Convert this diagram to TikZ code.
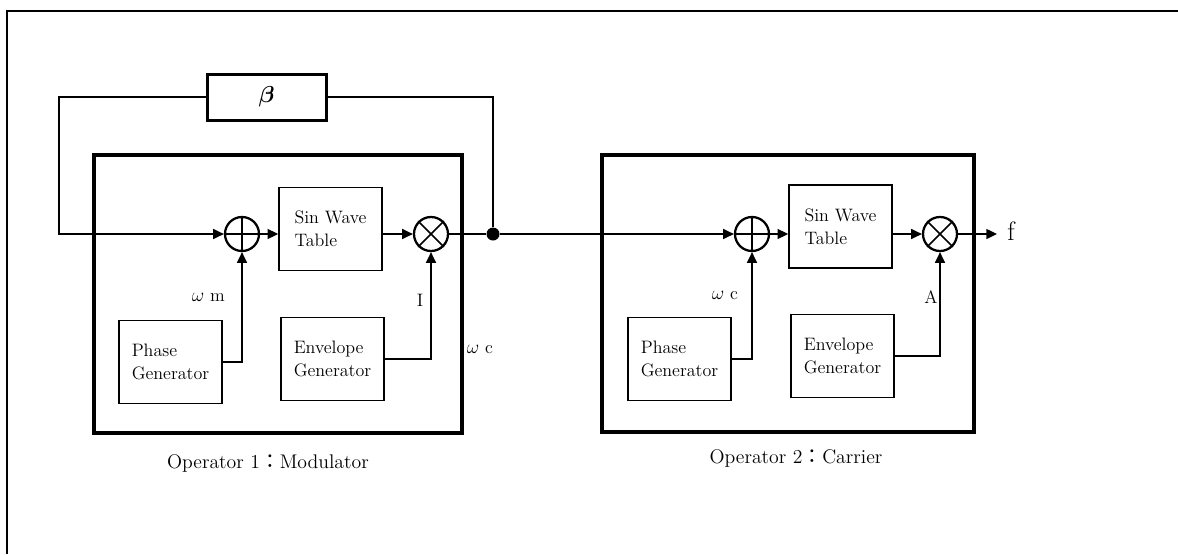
\documentclass[tikz,border=0pt]{standalone}
\usepackage{amsmath}
\usepackage{amssymb}
\usepackage{fontspec}
\newfontfamily\cjk{Noto Sans CJK JP}
\usetikzlibrary{arrows.meta}

\tikzset{
  blk/.style={draw, line width=1.2, minimum width=77.25pt, minimum height=62pt, align=left, inner sep=0pt, font=\fontsize{13.5}{17.5}\selectfont},
  junc/.style={draw, circle, line width=1.7, minimum size=25.5pt, inner sep=0pt},
  lbl/.style={inner sep=0.75pt, font=\fontsize{13.5}{16}\selectfont},
  capt/.style={inner sep=0.75pt, font=\fontsize{14.8}{18}\selectfont},
  sig/.style={line width=1},
  arr/.style={sig, -{Triangle[length=8pt,width=7.5pt]}}
}

\begin{document}
\begin{tikzpicture}[x=0.75pt,y=0.75pt,yscale=-1,xscale=1]
\useasboundingbox (0,0) rectangle (1178,554);

%Straight Lines
\draw [line width=1.5] (7,554) -- (7,11) -- (1178,11) ;
%Shape: Rectangle
\draw [line width=2.6] (94,155) rectangle (462,433) ;
%Shape: Rectangle
\draw [line width=2.6] (602,155) rectangle (974,432) ;

%Operator 1
\node [blk] (sin1) at (330.5,229) {Sin Wave\\Table};
\node [blk] (ph1) at (170.5,362) {Phase\\Generator};
\node [blk] (env1) at (332.5,359) {Envelope\\Generator};
\node [junc] (sum1) at (242,234) {};
\node [junc] (mul1) at (431,234) {};
\node [draw, line width=2.25, minimum width=89.25pt, minimum height=34.5pt, font=\fontsize{16}{18}\selectfont] (beta) at (266.5,97) {$\boldsymbol{\beta}$};
\node [circle, fill, inner sep=0pt, minimum size=9.75pt] (tap) at (493,234) {};
\coordinate (fbl) at (59,234);

%Operator 2
\node [blk] (sin2) at (840.5,226.5) {Sin Wave\\Table};
\node [blk] (ph2) at (679.5,359) {Phase\\Generator};
\node [blk] (env2) at (842.5,356) {Envelope\\Generator};
\node [junc] (sum2) at (752,234) {};
\node [junc] (mul2) at (940,234) {};
\coordinate (fout) at (997,234);

%Signs in circles
\draw [line width=1.2] (sum1.north) -- (sum1.south) (sum1.west) -- (sum1.east) ;
\draw [line width=1.2] (sum2.north) -- (sum2.south) (sum2.west) -- (sum2.east) ;
\draw [line width=1.2] (mul1.45) -- (mul1.225) (mul1.135) -- (mul1.-45) ;
\draw [line width=1.2] (mul2.45) -- (mul2.225) (mul2.135) -- (mul2.-45) ;

%Straight Lines
\draw [sig] (tap) |- (beta.east) ;
\draw [arr] (beta.west) -| (fbl) -- (sum1.west) ;
\draw [arr] (sum1.east) -- (sin1.west |- sum1.east) ;
\draw [arr] (sin1.east |- mul1.west) -- (mul1.west) ;
\draw [sig] (mul1.east) -- (tap) ;
\draw [arr] (ph1.east) -| (sum1.south) ;
\draw [arr] (env1.east) -| (mul1.south) ;
\draw [arr] (tap) -- (sum2.west) ;
\draw [arr] (sum2.east) -- (sin2.west |- sum2.east) ;
\draw [arr] (sin2.east |- mul2.west) -- (mul2.west) ;
\draw [arr] (mul2.east) -- (fout) ;
\draw [arr] (ph2.east) -| (sum2.south) ;
\draw [arr] (env2.east) -| (mul2.south) ;

% Text Node
\node [lbl, anchor=east] (wm) at (226,297) {$\omega$ m};
% Text Node
\node [lbl] (lI) at (420,300) {I};
% Text Node
\node [lbl] (wc1) at (480,349) {$\omega$ c};
% Text Node
\node [lbl] (wc2) at (725,295) {$\omega$ c};
% Text Node
\node [lbl] (lA) at (931,297) {A};
% Text Node
\node [anchor=west, inner sep=0.75pt, font=\fontsize{20}{22}\selectfont] (f) at (1006,231) {f};
% Text Node
\node [capt] (cap1) at (268,463) {Operator 1{\cjk ：}Modulator};
% Text Node
\node [capt] (cap2) at (796,458) {Operator 2{\cjk ：}Carrier};
\end{tikzpicture}
\end{document}
